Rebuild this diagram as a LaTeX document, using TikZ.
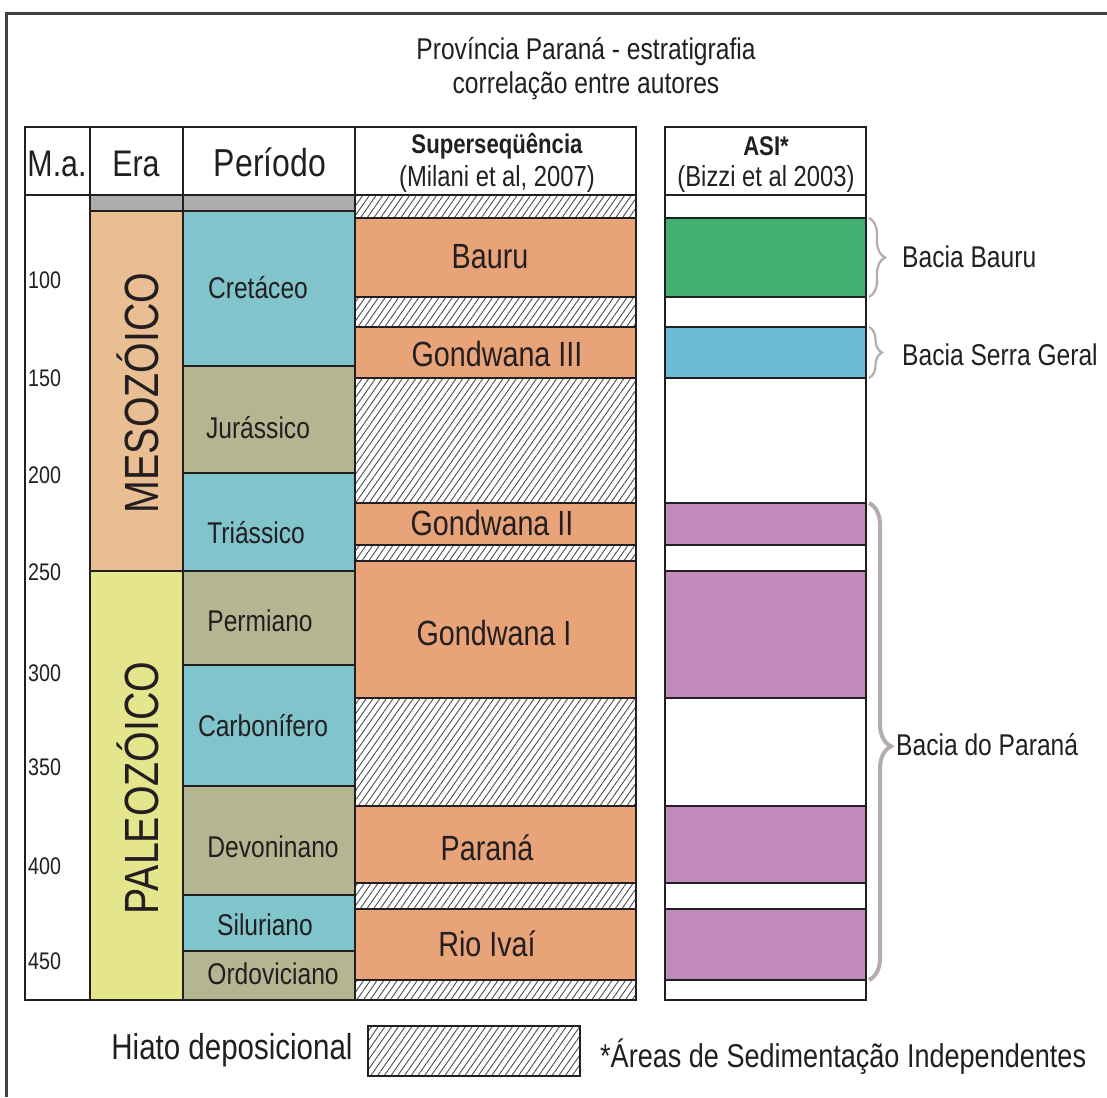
\documentclass[tikz,border=0pt]{standalone}
\usepackage{fontspec}
\setmainfont{Liberation Sans}[FakeStretch=0.82]
\usetikzlibrary{patterns.meta,decorations.pathreplacing}
\definecolor{ink}{RGB}{35,31,32}
\definecolor{meso}{RGB}{233,190,146}
\definecolor{paleo}{RGB}{229,229,141}
\definecolor{cyanp}{RGB}{128,196,204}
\definecolor{olivep}{RGB}{180,182,146}
\definecolor{orng}{RGB}{232,163,121}
\definecolor{grn}{RGB}{66,176,112}
\definecolor{blu}{RGB}{106,188,212}
\definecolor{purp}{RGB}{192,138,186}
\definecolor{band}{RGB}{172,172,172}
\definecolor{bracecol}{RGB}{180,172,176}
\begin{document}
\begin{tikzpicture}[x=1pt,y=-1pt,
  cell/.style={draw=ink,line width=2pt},
  hatch/.style={draw=ink,line width=2pt,pattern={Lines[angle=55,distance=5.5pt,line width=0.9pt]},pattern color=ink!80},
  lab/.style={text=ink,inner sep=0pt},
  fs/.style={font=\fontsize{#1}{#1}\selectfont},
  fsb/.style={font=\fontsize{#1}{#1}\selectfont\bfseries},
  bracepath/.style={draw=bracecol,line width=#1,decorate},
]
\useasboundingbox (0,0) rectangle (1107,1097);
\fill[white] (0,0) rectangle (1107,1097);
\draw[ink!85,line width=3pt] (6,1097) -- (6,14) -- (1107,14);

% title
\node[lab,fs=30] (t1) at (586,52) {Província Paraná - estratigrafia};
\node[lab,fs=30] (t2) at (586,86) {correlação entre autores};

% header
\path[cell,fill=white] (25,127) rectangle (90,195);
\path[cell,fill=white] (90,127) rectangle (183,195);
\path[cell,fill=white] (183,127) rectangle (355,195);
\path[cell,fill=white] (355,127) rectangle (636,195);
\path[cell,fill=white] (665,127) rectangle (866,195);
\node[lab,fs=37] (hma) at (57,164) {M.a.};
\node[lab,fs=37] (hera) at (136,164) {Era};
\node[lab,fs=39] (hper) at (270,162) {Período};
\node[lab,fsb=27] (hsup) at (497,146) {Superseqüência};
\node[lab,fs=29] (hmil) at (497,179) {(Milani et al, 2007)};
\node[lab,fsb=27] (hasi) at (766,146) {ASI*};
\node[lab,fs=29] (hbiz) at (766,179) {(Bizzi et al 2003)};

% M.a. column
\path[cell,fill=white] (25,195) rectangle (90,1000);
\foreach \v/\yy in {100/280,150/378,200/475,250/572,300/673,350/767,400/866,450/961}
  \node[lab,fs=24,anchor=west] (ma\v) at (28,\yy) {\v};

% Era column
\path[cell,fill=band] (90,195) rectangle (183,211);
\path[cell,fill=meso] (90,211) rectangle (183,571);
\path[cell,fill=paleo] (90,571) rectangle (183,1000);
\node[lab,fs=48,rotate=90] (meso) at (138,393) {MESOZÓICO};
\node[lab,fs=48,rotate=90] (paleo) at (138,788) {PALEOZÓICO};

% Periodo column
\path[cell,fill=band] (183,195) rectangle (355,211);
\path[cell,fill=cyanp] (183,211) rectangle (355,366);
\path[cell,fill=olivep] (183,366) rectangle (355,473);
\path[cell,fill=cyanp] (183,473) rectangle (355,571);
\path[cell,fill=olivep] (183,571) rectangle (355,665);
\path[cell,fill=cyanp] (183,665) rectangle (355,786);
\path[cell,fill=olivep] (183,786) rectangle (355,895);
\path[cell,fill=cyanp] (183,895) rectangle (355,951);
\path[cell,fill=olivep] (183,951) rectangle (355,1000);
\node[lab,fs=30] (cret) at (258,288) {Cretáceo};
\node[lab,fs=30] (jur) at (258,428) {Jurássico};
\node[lab,fs=30] (tri) at (256,533) {Triássico};
\node[lab,fs=30] (perm) at (260,621) {Permiano};
\node[lab,fs=30] (carb) at (263,726) {Carbonífero};
\node[lab,fs=30] (dev) at (273,847) {Devoninano};
\node[lab,fs=30] (sil) at (265,925) {Siluriano};
\node[lab,fs=30] (ord) at (273,974) {Ordoviciano};

% Superseq column
\path[hatch] (355,195) rectangle (636,218);
\path[cell,fill=orng] (355,218) rectangle (636,297);
\path[hatch] (355,297) rectangle (636,327);
\path[cell,fill=orng] (355,327) rectangle (636,378);
\path[hatch] (355,378) rectangle (636,503);
\path[cell,fill=orng] (355,503) rectangle (636,545);
\path[hatch] (355,545) rectangle (636,561);
\path[cell,fill=orng] (355,561) rectangle (636,698);
\path[hatch] (355,698) rectangle (636,806);
\path[cell,fill=orng] (355,806) rectangle (636,883);
\path[hatch] (355,883) rectangle (636,909);
\path[cell,fill=orng] (355,909) rectangle (636,980);
\path[hatch] (355,980) rectangle (636,1000);
\node[lab,fs=35] (bauru) at (490,257) {Bauru};
\node[lab,fs=35] (g3) at (497,354) {Gondwana III};
\node[lab,fs=35] (g2) at (492,523) {Gondwana II};
\node[lab,fs=35] (g1) at (494,633) {Gondwana I};
\node[lab,fs=35] (par) at (487,848) {Paraná};
\node[lab,fs=35] (rio) at (487,944) {Rio Ivaí};

% ASI column
\path[cell,fill=white] (665,195) rectangle (866,1000);
\path[cell,fill=grn] (665,218) rectangle (866,297);
\path[cell,fill=blu] (665,327) rectangle (866,378);
\path[cell,fill=purp] (665,503) rectangle (866,545);
\path[cell,fill=purp] (665,571) rectangle (866,698);
\path[cell,fill=purp] (665,806) rectangle (866,883);
\path[cell,fill=purp] (665,909) rectangle (866,980);

% braces
\coordinate (b1t) at (869,218);
\coordinate (b1b) at (869,297);
\coordinate (b2t) at (869,327);
\coordinate (b2b) at (869,378);
\coordinate (b3t) at (869,503);
\coordinate (b3b) at (869,980);
\draw[bracepath=2.2pt,decoration={brace,amplitude=16pt,aspect=0.5}] (b1t) -- (b1b);
\draw[bracepath=2.2pt,decoration={brace,amplitude=13pt,aspect=0.5}] (b2t) -- (b2b);
\draw[bracepath=4pt,decoration={brace,amplitude=22pt,aspect=0.51}] (b3t) -- (b3b);
\node[lab,fs=30,anchor=west] (lbb) at (902,257) {Bacia Bauru};
\node[lab,fs=30,anchor=west] (lbs) at (902,355) {Bacia Serra Geral};
\node[lab,fs=30,anchor=west] (lbp) at (896,745) {Bacia do Paraná};

% legend
\node[lab,fs=36] (hiato) at (232,1050) {Hiato deposicional};
\path[hatch] (368,1026) rectangle (580,1076);
\node[lab,fs=33,anchor=west] (areas) at (600,1057) {*Áreas de Sedimentação Independentes};
\end{tikzpicture}
\end{document}
